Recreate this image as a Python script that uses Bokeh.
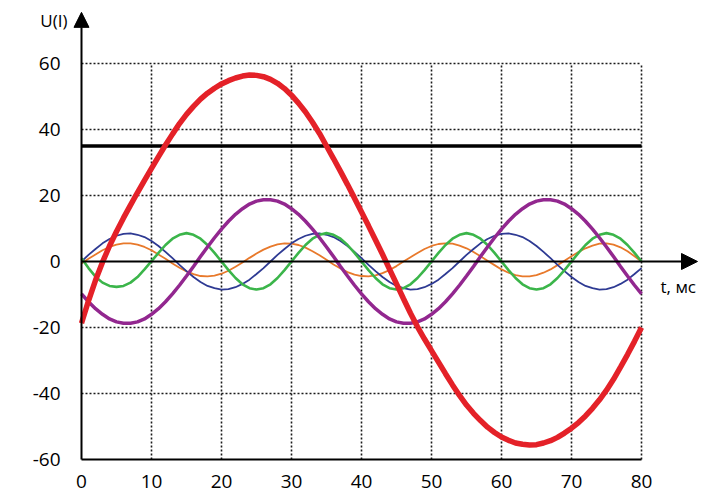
from bokeh.plotting import figure
from bokeh.models import Range1d, Arrow, NormalHead
from bokeh.core.properties import value
from bokeh.embed import file_html
from bokeh.resources import INLINE

# time axis, ms
t = list(range(0, 81))

red = [-18.7, -11.9, -5.7, -0.2, 4.7, 9.1, 13.2, 17.1, 20.9, 24.6,
       28.2, 31.8, 35.3, 38.6, 41.8, 44.6, 47.0, 49.2, 51.0, 52.5,
       53.8, 54.8, 55.6, 56.2, 56.5, 56.4, 56.0, 55.2, 54.0, 52.4,
       50.4, 48.0, 45.3, 42.2, 38.8, 35.0, 31.2, 27.3, 23.3, 19.2,
       15.0, 10.8, 6.5, 2.2, -2.3, -6.8, -11.3, -15.7, -19.8, -23.5,
       -27.0, -30.5, -34.0, -37.4, -40.6, -43.5, -46.0, -48.2, -50.2, -51.8,
       -53.2, -54.2, -55.0, -55.4, -55.6, -55.5, -55.0, -54.3, -53.3, -52.0,
       -50.5, -48.8, -46.8, -44.5, -41.9, -39.0, -35.7, -32.0, -28.2, -24.2,
       -20.0]

blue = [0.0, 2.0, 3.8, 5.5, 6.8, 7.8, 8.4, 8.5, 8.1, 7.4,
        6.2, 4.7, 2.9, 1.0, -1.0, -2.9, -4.7, -6.2, -7.4, -8.1,
        -8.5, -8.4, -7.8, -6.8, -5.5, -3.8, -2.0, 0.0, 2.0, 3.8,
        5.5, 6.8, 7.8, 8.4, 8.5, 8.1, 7.4, 6.2, 4.7, 2.9,
        1.0, -1.0, -2.9, -4.7, -6.2, -7.4, -8.1, -8.5, -8.4, -7.8,
        -6.8, -5.5, -3.8, -2.0, 0.0, 2.0, 3.8, 5.5, 6.8, 7.8,
        8.4, 8.5, 8.1, 7.4, 6.2, 4.7, 2.9, 1.0, -1.0, -2.9,
        -4.7, -6.2, -7.4, -8.1, -8.5, -8.4, -7.8, -6.8, -5.5, -3.8,
        -2.0]

green = [1.0, -2.0, -4.6, -6.4, -7.4, -7.7, -7.4, -6.4, -4.7, -2.4,
         0.1, 2.6, 5.0, 6.9, 8.1, 8.6, 8.1, 6.9, 5.0, 2.6,
         0.0, -2.6, -5.0, -6.9, -8.1, -8.5, -8.1, -6.9, -5.0, -2.6,
         0.0, 2.6, 5.0, 6.9, 8.1, 8.6, 8.1, 6.9, 5.0, 2.6,
         0.0, -2.6, -5.0, -6.9, -8.1, -8.5, -8.1, -6.9, -5.0, -2.6,
         0.0, 2.6, 5.0, 6.9, 8.1, 8.6, 8.1, 6.9, 5.0, 2.6,
         0.0, -2.6, -5.0, -6.9, -8.1, -8.5, -8.1, -6.9, -5.0, -2.6,
         0.0, 2.6, 5.0, 6.9, 8.1, 8.6, 8.1, 6.9, 5.0, 2.6,
         0.0]

orange = [-0.6, 0.8, 2.1, 3.4, 4.4, 5.1, 5.5, 5.5, 5.1, 4.4,
          3.4, 2.1, 0.8, -0.6, -1.9, -3.0, -3.8, -4.4, -4.5, -4.3,
          -3.7, -2.8, -1.6, -0.3, 1.1, 2.4, 3.6, 4.5, 5.2, 5.5,
          5.4, 5.0, 4.2, 3.1, 1.9, 0.5, -0.9, -2.1, -3.2, -4.0,
          -4.4, -4.5, -4.2, -3.5, -2.6, -1.4, 0.0, 1.3, 2.6, 3.8,
          4.7, 5.3, 5.5, 5.4, 4.8, 4.0, 2.9, 1.6, 0.2, -1.1,
          -2.4, -3.4, -4.1, -4.5, -4.5, -4.1, -3.4, -2.4, -1.1, 0.2,
          1.6, 2.9, 4.0, 4.8, 5.4, 5.5, 5.1, 4.3, 3.1, 1.6,
          0.0]

purple = [-9.8, -12.2, -14.3, -16.0, -17.4, -18.3, -18.7, -18.7, -18.3, -17.4,
          -16.0, -14.3, -12.2, -9.8, -7.2, -4.4, -1.5, 1.5, 4.4, 7.2,
          9.8, 12.2, 14.3, 16.0, 17.4, 18.3, 18.7, 18.7, 18.3, 17.4,
          16.0, 14.3, 12.2, 9.8, 7.2, 4.4, 1.5, -1.5, -4.4, -7.2,
          -9.8, -12.2, -14.3, -16.0, -17.4, -18.3, -18.7, -18.7, -18.3, -17.4,
          -16.0, -14.3, -12.2, -9.8, -7.2, -4.4, -1.5, 1.5, 4.4, 7.2,
          9.8, 12.2, 14.3, 16.0, 17.4, 18.3, 18.7, 18.7, 18.3, 17.4,
          16.0, 14.3, 12.2, 9.8, 7.2, 4.4, 1.5, -1.5, -4.4, -7.2,
          -9.8]

level_line = 35

x_ticks = [0, 10, 20, 30, 40, 50, 60, 70, 80]
x_tick_labels = ["0", "10", "20", "30", "40", "50", "60", "70", "80"]
y_ticks = [60, 40, 20, 0, -20, -40, -60]
y_tick_labels = ["60", "40", "20", "0", "-20", "-40", "-60"]
grid_x = [10, 20, 30, 40, 50, 60, 70, 80]
grid_y = [60, 40, 20, -20, -40]

x_min, x_max = 0, 80
y_min, y_max = -60, 60
x_axis_end = 88
y_axis_end = 75.5

FONT = "Open Sans"

p = figure(width=716, height=495,
           x_range=Range1d(-11.571, 90.714), y_range=Range1d(-70.91, 79.09),
           x_axis_type=None, y_axis_type=None,
           output_backend="svg", toolbar_location=None, min_border=0)
p.grid.visible = False
p.outline_line_color = None
p.background_fill_color = "white"
p.border_fill_color = "white"

# dotted grid
p.segment(x0=grid_x, y0=[y_min] * len(grid_x), x1=grid_x, y1=[y_max] * len(grid_x),
          line_color="#1a1a1a", line_width=1.6, line_dash="2 2")
p.segment(x0=[x_min] * len(grid_y), y0=grid_y, x1=[x_max] * len(grid_y), y1=grid_y,
          line_color="#1a1a1a", line_width=1.6, line_dash="2 2")

# bottom frame line
p.segment(x0=[x_min], y0=[y_min], x1=[x_max], y1=[y_min], line_color="black", line_width=2)

# axes with arrows
p.add_layout(Arrow(x_start=0, y_start=y_min, x_end=0, y_end=y_axis_end,
                   line_color="black", line_width=2,
                   end=NormalHead(size=15, fill_color="black", line_color="black")))
p.add_layout(Arrow(x_start=0, y_start=0, x_end=x_axis_end, y_end=0,
                   line_color="black", line_width=2,
                   end=NormalHead(size=16, fill_color="black", line_color="black")))

# constant level
p.line(x=[x_min, x_max], y=[level_line, level_line], line_color="black", line_width=3.5)

# curves
p.line(t, orange, line_color="#E8792B", line_width=1.8)
p.line(t, blue, line_color="#2E3A93", line_width=1.8)
p.line(t, green, line_color="#3BB54A", line_width=2.6)
p.line(t, purple, line_color="#92278F", line_width=3.5)
p.line(t, red, line_color="#E42128", line_width=5.5)

# tick labels
p.text(x=x_ticks, y=[y_min] * len(x_ticks), text=x_tick_labels,
       text_align="center", text_baseline="middle", y_offset=22,
       text_font=value(FONT), text_font_size="19px", text_color="black")
p.text(x=[0] * len(y_ticks), y=y_ticks, text=y_tick_labels,
       text_align="right", text_baseline="middle", x_offset=-21,
       text_font=value(FONT), text_font_size="19px", text_color="black")

# axis titles
p.text(x=[0], y=[y_axis_end - 2.5], text=["U(I)"], text_align="right", text_baseline="middle",
       x_offset=-14, text_font=value(FONT), text_font_size="17px", text_color="black")
p.text(x=[x_max], y=[0], text=["t, мс"], text_align="left", text_baseline="middle",
       x_offset=19, y_offset=25, text_font=value(FONT), text_font_size="17px", text_color="black")

open("out.html", "w").write(file_html(p, INLINE))
